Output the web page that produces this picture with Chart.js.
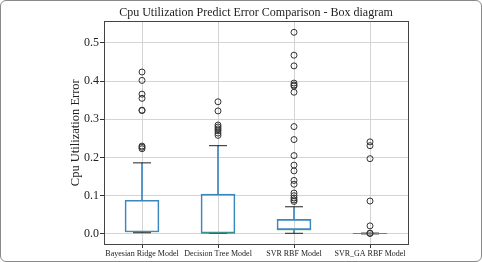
<!DOCTYPE html>
<html>
<head>
<meta charset="utf-8">
<script src="https://cdn.jsdelivr.net/npm/chart.js@4"></script>
<style>
  html, body { margin: 0; padding: 0; background: #fff; }
  #wrap { position: relative; width: 482px; height: 262px; }
  #chart { position: absolute; left: 0; top: 0; }
  #frame { position: absolute; left: 0; top: 0; width: 482px; height: 262px; box-sizing: border-box;
           border: 1px solid #8a8a8a; border-radius: 6px; pointer-events: none; }
</style>
</head>
<body>
<div id="wrap">
  <canvas id="chart" width="482" height="262"></canvas>
  <div id="frame"></div>
</div>
<script>
const models = ['Bayesian Ridge Model', 'Decision Tree Model', 'SVR RBF Model', 'SVR_GA RBF Model'];
const q1 = [0.005, 0.002, 0.011, 0.0003];
const medians = [0.006, 0.002, 0.011, 0.001];
const q3 = [0.088, 0.104, 0.038, 0.0015];
const whiskerLow = [0.003, 0.001, 0.0015, 0.0];
const whiskerHigh = [0.186, 0.231, 0.071, 0.002];

const outliersBayes = [0.424, 0.402, 0.366, 0.355, 0.324, 0.323, 0.230, 0.227, 0.223];
const outliersTree = [0.346, 0.322, 0.285, 0.280, 0.275, 0.270, 0.264, 0.258];
const outliersSvr = [0.528, 0.468, 0.440, 0.395, 0.390, 0.387, 0.371, 0.281, 0.247, 0.205,
  0.180, 0.165, 0.140, 0.130, 0.107, 0.100, 0.094, 0.089, 0.085];
const outliersGa = [0.241, 0.231, 0.197, 0.086, 0.021, 0.002, 0.001];

const yTicks = [0.0, 0.1, 0.2, 0.3, 0.4, 0.5];

const BLUE = '#3a87c0';
const GREEN = '#3aa83a';
const SERIF = '"Liberation Serif", "Times New Roman", serif';

const outlierPoints = [];
[outliersBayes, outliersTree, outliersSvr, outliersGa].forEach((list, i) => {
  list.forEach(v => outlierPoints.push({ x: models[i], y: v }));
});
const asPoints = arr => arr.map((v, i) => ({ x: models[i], y: v }));

const frame = {
  id: 'frame',
  afterDatasetsDraw(chart) {
    const a = chart.chartArea, ctx = chart.ctx;
    ctx.save();
    ctx.strokeStyle = '#444';
    ctx.lineWidth = 1;
    ctx.strokeRect(Math.round(a.left) + 0.5, Math.round(a.top) + 0.5,
      Math.round(a.right - a.left), Math.round(a.bottom - a.top));
    ctx.restore();
  }
};

new Chart(document.getElementById('chart'), {
  type: 'bar',
  data: {
    labels: models,
    datasets: [
      { type: 'bar', data: models.map((_, i) => [q3[i], whiskerHigh[i]]), backgroundColor: BLUE,
        barThickness: 1, grouped: false, order: 6 },
      { type: 'bar', data: models.map((_, i) => [whiskerLow[i], q1[i]]), backgroundColor: BLUE,
        barThickness: 1, grouped: false, order: 6 },
      { type: 'bar', data: models.map((_, i) => [q1[i], q3[i]]), backgroundColor: 'rgba(0,0,0,0)',
        borderColor: BLUE, borderWidth: 1, borderSkipped: false, barThickness: 34, grouped: false, order: 5 },
      { type: 'line', data: asPoints(whiskerHigh), showLine: false,
        pointStyle: 'line', pointRadius: 9, borderColor: '#222', borderWidth: 1, order: 4 },
      { type: 'line', data: asPoints(whiskerLow), showLine: false,
        pointStyle: 'line', pointRadius: 9, borderColor: '#222', borderWidth: 1, order: 4 },
      { type: 'line', data: asPoints(medians), showLine: false,
        pointStyle: 'line', pointRadius: 17, borderColor: GREEN, borderWidth: 1, order: 3 },
      { type: 'line', data: outlierPoints, showLine: false, pointStyle: 'circle', pointRadius: 3,
        borderColor: '#333', backgroundColor: 'rgba(0,0,0,0)', borderWidth: 1, order: 1 }
    ]
  },
  options: {
    responsive: false,
    animation: false,
    layout: { padding: { left: 68, right: 74, top: 0, bottom: 0 } },
    plugins: {
      legend: { display: false },
      tooltip: { enabled: false },
      title: {
        display: true, fullSize: false, text: 'Cpu Utilization Predict Error Comparison - Box diagram',
        color: '#222', font: { family: SERIF, size: 12, weight: 'normal' }, padding: { top: 6, bottom: 1 }
      }
    },
    scales: {
      x: {
        type: 'category', offset: true,
        grid: { offset: false, color: '#d4d4d4', tickColor: '#333', tickLength: 4 },
        border: { color: '#444' },
        ticks: { color: '#222', font: { family: SERIF, size: 8 }, padding: 1, maxRotation: 0, autoSkip: false }
      },
      y: {
        min: -0.0265, max: 0.5565,
        afterBuildTicks: axis => { axis.ticks = yTicks.map(v => ({ value: v })); },
        grid: { color: '#d4d4d4', tickColor: '#333', tickLength: 4 },
        border: { color: '#444' },
        ticks: { color: '#222', font: { family: SERIF, size: 12 }, padding: 1,
          callback: v => Number(v).toFixed(1) },
        title: { display: true, text: 'Cpu Utilization Error', color: '#222',
          font: { family: SERIF, size: 12.5 }, padding: { top: 0, bottom: 0 } }
      }
    }
  },
  plugins: [frame]
});
</script>
</body>
</html>
